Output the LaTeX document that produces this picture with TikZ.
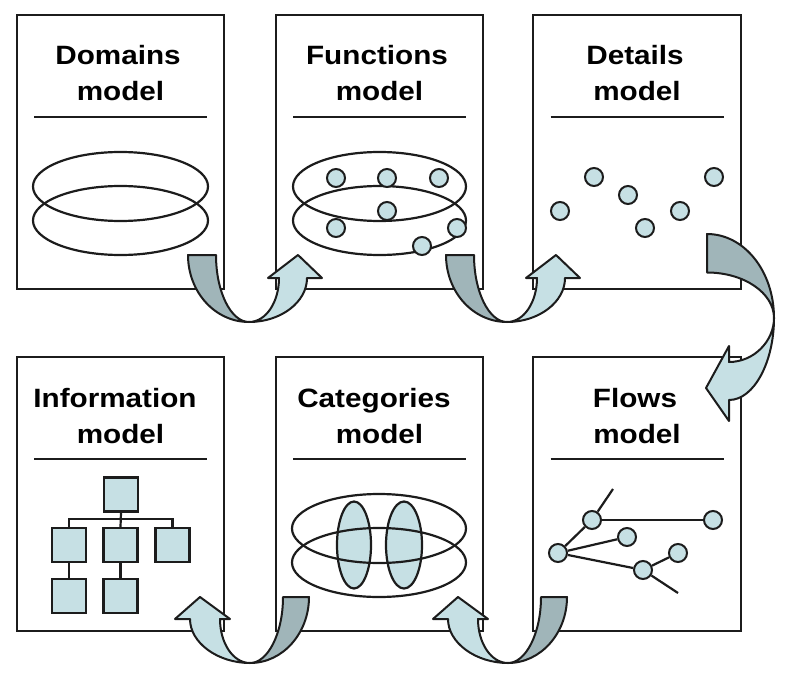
\documentclass[tikz,border=0pt]{standalone}
\usepackage{fontspec}
\newfontfamily\titlefont[FakeStretch=1.12]{Liberation Sans}
\definecolor{lightfill}{HTML}{C6E0E4}
\definecolor{darkfill}{HTML}{A0B5B9}
\definecolor{linec}{HTML}{1C1C1C}
\begin{document}
\begin{tikzpicture}[x=1pt,y=-1pt,
 panel/.style={draw=linec, line width=2pt, minimum width=207pt, minimum height=274pt, inner sep=0pt},
 title/.style={font=\titlefont\bfseries\fontsize{26.5}{30}\selectfont, anchor=base, inner sep=0pt},
 sepline/.style={line width=1.8pt, draw=linec},
 ell/.style={line width=2.2pt, draw=linec},
 dot/.style={circle, draw=linec, line width=2pt, fill=lightfill, minimum size=18pt, inner sep=0pt},
 sq/.style={draw=linec, line width=2.2pt, fill=lightfill, minimum size=34pt, inner sep=0pt},
 wire/.style={line width=2.2pt, draw=linec},
 darkpart/.style={fill=darkfill, draw=linec, line width=2pt, line join=round},
 lightpart/.style={fill=lightfill, draw=linec, line width=2pt, line join=round}
]
\useasboundingbox (0,0) rectangle (800,687);

% panels
\node[panel] (p1) at (120.5,152) {};
\node[panel] (p2) at (379.5,152) {};
\node[panel, minimum width=208pt] (p3) at (637,152) {};
\node[panel] (p4) at (120.5,494) {};
\node[panel] (p5) at (379.5,494) {};
\node[panel, minimum width=208pt] (p6) at (637,494) {};

% titles
\node[title] (t1a) at (118,65) {Domains};
\node[title] (t1b) at (120.5,101) {model};
\node[title] (t2a) at (377,65) {Functions};
\node[title] (t2b) at (379.5,101) {model};
\node[title] (t3a) at (635,65) {Details};
\node[title] (t3b) at (637,101) {model};
\node[title] (t4a) at (115,407) {Information};
\node[title] (t4b) at (120.5,443) {model};
\node[title] (t5a) at (374,407) {Categories};
\node[title] (t5b) at (379.5,443) {model};
\node[title] (t6a) at (635,407) {Flows};
\node[title] (t6b) at (637,443) {model};

% separators
\foreach \cx/\ty in {120.5/117,379.5/117,637/117,120.5/459,379.5/459,637/459}
  \draw[sepline] (\cx-86.5,\ty) -- (\cx+86.5,\ty);

% Domains model
\draw[ell] (120.5,186.5) ellipse [x radius=87.5pt, y radius=34.5pt];
\draw[ell] (120.5,220.5) ellipse [x radius=87.5pt, y radius=34.5pt];

% Functions model
\draw[ell] (379.5,186.5) ellipse [x radius=86.5pt, y radius=34.5pt];
\draw[ell] (379.5,220.5) ellipse [x radius=86.5pt, y radius=34.5pt];
\node[dot] (f1) at (336,178) {};
\node[dot] (f2) at (387,178) {};
\node[dot] (f3) at (439,178) {};
\node[dot] (f4) at (387,211) {};
\node[dot] (f5) at (336,228) {};
\node[dot] (f6) at (422,246) {};
\node[dot] (f7) at (457,228) {};

% Details model
\node[dot] (d1) at (594,177) {};
\node[dot] (d2) at (628,195) {};
\node[dot] (d3) at (714,177) {};
\node[dot] (d4) at (560,211) {};
\node[dot] (d5) at (645,228) {};
\node[dot] (d6) at (680,211) {};

% Flows model
\coordinate (fe1) at (613,489);
\coordinate (fe2) at (678,593);
\node[dot] (g1) at (592,520) {};
\node[dot] (g2) at (713,520) {};
\node[dot] (g3) at (627,537) {};
\node[dot] (g4) at (558,553) {};
\node[dot] (g5) at (678,553) {};
\node[dot] (g6) at (643,570) {};
\draw[wire] (g1) -- (fe1);
\draw[wire] (g1) -- (g2);
\draw[wire] (g1) -- (g4);
\draw[wire] (g4) -- (g3);
\draw[wire] (g4) -- (g6);
\draw[wire] (g6) -- (g5);
\draw[wire] (g6) -- (fe2);

% Information model
\node[sq] (i0) at (121,494.5) {};
\node[sq] (i1) at (69,545) {};
\node[sq] (i2) at (120.5,545) {};
\node[sq] (i3) at (172.5,545) {};
\node[sq] (i4) at (69,596) {};
\node[sq] (i5) at (120.5,596) {};
\draw[wire] (i0.south) -- (i2.north);
\draw[wire] (i1.north) -- ++(0,-8) -| (i3.north);
\draw[wire] (i1.south) -- (i4.north);
\draw[wire] (i2.south) -- (i5.north);

% Categories model
\draw[ell, fill=lightfill] (354,545) ellipse [x radius=17pt, y radius=43.5pt];
\draw[ell, fill=lightfill] (404,545) ellipse [x radius=18pt, y radius=43.5pt];
\draw[ell] (379,528.5) ellipse [x radius=87pt, y radius=34.5pt];
\draw[ell] (379,562.5) ellipse [x radius=87pt, y radius=34.5pt];

% top U-turn arrows
\foreach \bx in {249,507}{
  \begin{scope}[shift={(\bx,322)}]
    \draw[darkpart] (-61,-67) .. controls (-61,-30) and (-34,0) .. (0,0)
       .. controls (-18,0) and (-33,-30) .. (-33,-67) -- cycle;
    \draw[lightpart] (0,0) .. controls (32,0) and (58,-20) .. (58,-44)
       -- (73,-44) -- (49,-67) -- (19,-44) -- (30,-44)
       .. controls (30,-20) and (17,0) .. (0,0) -- cycle;
  \end{scope}
}
% bottom U-turn arrows (mirrored)
\foreach \bx in {250,508}{
  \begin{scope}[shift={(\bx,663)}, xscale=-1]
    \draw[darkpart] (-59,-66) .. controls (-59,-30) and (-33,0) .. (0,0)
       .. controls (-18,0) and (-33,-30) .. (-33,-66) -- cycle;
    \draw[lightpart] (0,0) .. controls (32,0) and (60,-20) .. (60,-44)
       -- (75,-44) -- (50,-66) -- (20,-44) -- (30,-44)
       .. controls (30,-20) and (17,0) .. (0,0) -- cycle;
  \end{scope}
}
% right arrow
\draw[darkpart] (707,234) .. controls (744,234) and (774,271) .. (774,318)
   .. controls (774,293) and (744,272.5) .. (707,272.5) -- cycle;
\draw[lightpart] (774,318) .. controls (774,362) and (754,400) .. (729,400)
   -- (729,421) -- (706,388) -- (729,346) -- (729,362)
   .. controls (754,362) and (774,341) .. (774,318) -- cycle;
\end{tikzpicture}
\end{document}
